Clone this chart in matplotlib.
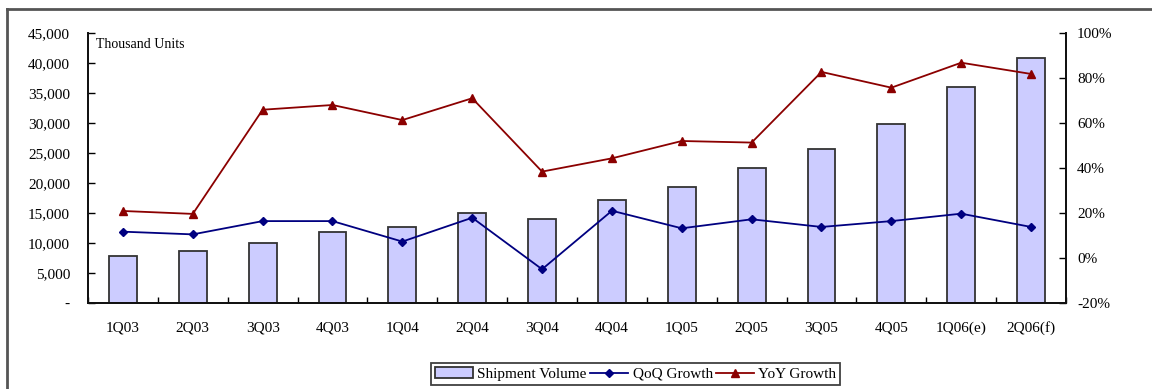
import matplotlib
matplotlib.use("Agg")
import matplotlib.pyplot as plt
from matplotlib.lines import Line2D
from matplotlib.ticker import FuncFormatter, FixedLocator
import numpy as np

plt.rcParams['font.family'] = ['Liberation Serif', 'DejaVu Serif']

quarters = ["1Q03", "2Q03", "3Q03", "4Q03", "1Q04", "2Q04", "3Q04", "4Q04",
            "1Q05", "2Q05", "3Q05", "4Q05", "1Q06(e)", "2Q06(f)"]
shipments = [7800, 8600, 10050, 11780, 12720, 14950, 13950, 17100,
             19400, 22450, 25670, 29830, 35950, 40830]
qoq_growth = [11.7, 10.5, 16.4, 16.4, 7.3, 17.9, -5.0, 21.0,
              13.2, 17.2, 13.8, 16.4, 19.7, 13.8]
yoy_growth = [20.9, 19.6, 65.9, 68.0, 61.3, 71.0, 38.4, 44.3,
              52.0, 51.3, 82.7, 75.7, 86.8, 81.8]

W, H = 1152, 389
fig = plt.figure(figsize=(W / 100, H / 100), dpi=100)

# outer frame (left and top edges)
frame_color = "#555555"
fig.add_artist(Line2D([7 / W, 7 / W], [0, 1 - 9 / H], transform=fig.transFigure,
                      color=frame_color, lw=2))
fig.add_artist(Line2D([7 / W, 1], [1 - 9 / H, 1 - 9 / H], transform=fig.transFigure,
                      color=frame_color, lw=2))

ax = fig.add_axes([88 / W, 1 - 303 / H, (1066 - 88) / W, (303 - 33) / H])
ax2 = ax.twinx()

x = np.arange(len(quarters))
bars = ax.bar(x, shipments, width=0.4, color="#CCCCFF", edgecolor="#333333",
              linewidth=1.3, zorder=2, label="Shipment Volume")
ax.set_xlim(-0.5, len(quarters) - 0.5)
ax.set_ylim(0, 45000)
ax.set_yticks(np.arange(0, 45001, 5000))
ax.yaxis.set_major_formatter(FuncFormatter(lambda v, p: "-" if v == 0 else f"{int(v):,}"))

ax.set_xticks(x)
ax.set_xticklabels(quarters)
ax.xaxis.set_minor_locator(FixedLocator(np.arange(-0.5, len(quarters), 1.0)))
ax.tick_params(axis="x", which="major", length=0, pad=13, labelsize=11)
ax.tick_params(axis="x", which="minor", direction="in", length=4, width=1)
ax.tick_params(axis="y", direction="in", length=5, width=1, labelsize=11, pad=13)

ax2.set_ylim(-20, 100)
ax2.set_yticks(np.arange(-20, 101, 20))
ax2.yaxis.set_major_formatter(FuncFormatter(lambda v, p: f"{int(v)}%"))
ax2.tick_params(axis="y", direction="in", length=5, width=1, labelsize=11, pad=8)

l1, = ax2.plot(x, qoq_growth, color="#000080", marker="D", markersize=4,
               linewidth=1.3, label="QoQ Growth", zorder=3)
l2, = ax2.plot(x, yoy_growth, color="#8B0000", marker="^", markersize=6,
               linewidth=1.3, label="YoY Growth", zorder=3)

for a in (ax, ax2):
    a.spines["top"].set_visible(False)
    for s in ("left", "right", "bottom"):
        a.spines[s].set_linewidth(1.3)
        a.spines[s].set_color("#111111")

ax.text(96 / W, 1 - 44 / H, "Thousand Units", transform=fig.transFigure,
        fontsize=10, va="center", ha="left")

leg = fig.legend([bars, l1, l2], ["Shipment Volume", "QoQ Growth", "YoY Growth"],
                 loc="center", bbox_to_anchor=(635.5 / W, 1 - 374 / H), ncol=3,
                 frameon=True, fancybox=False, fontsize=11, handlelength=2.5,
                 handletextpad=0.3, columnspacing=0.2, borderpad=0.25)
leg.get_frame().set_edgecolor("#111111")
leg.get_frame().set_linewidth(1.3)

fig.savefig("out.png", dpi=100)
